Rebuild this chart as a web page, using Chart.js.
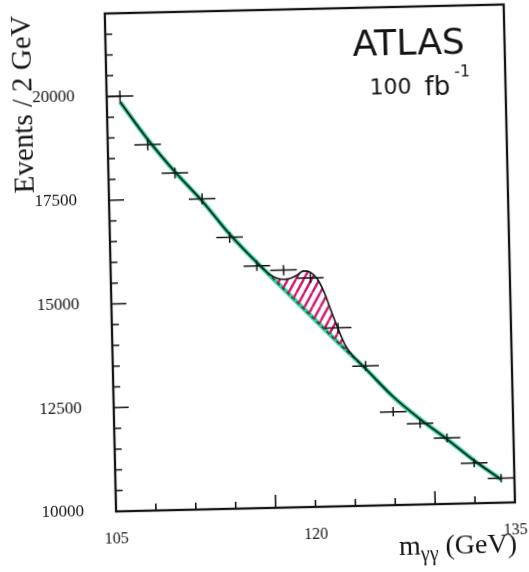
<!DOCTYPE html>
<html lang="en">
<head>
<meta charset="utf-8">
<title>ATLAS m_yy spectrum, 100 fb-1</title>
<script src="https://cdn.jsdelivr.net/npm/chart.js@4.4.1/dist/chart.umd.min.js"></script>
<style>
  html, body { margin: 0; padding: 0; background: #fff; overflow: hidden; }
  /* the scanned figure sits slightly tilted */
  #massChart { display: block; transform: rotate(-1.3deg); transform-origin: 50% 50%; }
</style>
</head>
<body>
<canvas id="massChart" width="529" height="572"></canvas>
<script>
// data points, 2 GeV bins
const binCentres = [106, 108, 110, 112, 114, 116, 118, 120, 122, 124, 126, 128, 130, 132, 134];
const eventCounts = [20000, 18820, 18120, 17480, 16540, 15840, 15720, 15520, 14300, 13370, 12250, 11950, 11590, 10970, 10590];
const countErrors = [141, 137, 135, 132, 129, 126, 125, 125, 120, 116, 111, 109, 108, 105, 103];
const binHalfWidth = 1;

// background only (green)
const bgMass = [106, 108, 110, 112, 114, 116, 118, 120, 122, 124, 126, 128, 130, 132, 134];
const backgroundFit = [19860, 18950, 18150, 17430, 16620, 15920, 15260, 14600, 13940, 13300, 12620, 12060, 11560, 11030, 10560];

// signal + background (black)
const totalMass = [106, 108, 110, 112, 114, 116, 116.5, 117, 118, 118.5, 119, 119.5, 120, 120.5, 121, 121.5, 122, 122.5, 123, 123.5, 124, 126, 128, 130, 132, 134];
const signalPlusBackground = [19860, 18950, 18150, 17430, 16620, 15920, 15760, 15610, 15500, 15520, 15590, 15690, 15660, 15500, 15180, 14720, 14280, 13890, 13640, 13470, 13300, 12620, 12060, 11560, 11030, 10560];

// stretch of the background drawn dashed under the hatch
const dashedFrom = 116;
const dashedTo = 124;

// axes
const xTickMarks = [105, 108, 111, 114, 117, 120, 123, 126, 129, 132, 135];
const xTallMarks = [117, 129];
const xLabels = [105, 120, 135];
const yTickMarks = [10000, 10500, 11000, 11500, 12000, 12500, 13000, 13500, 14000, 14500, 15000, 15500,
                    16000, 16500, 17000, 17500, 18000, 18500, 19000, 19500, 20000, 20500, 21000, 21500, 22000];
const yLabels = [10000, 12500, 15000, 17500, 20000];

const SERIF = '"Liberation Serif", "Times New Roman", serif';
const HAND = '"DejaVu Sans", sans-serif';
const INK = '#141414';

const MassPlot = {
    init() {
        this.canvas = document.getElementById('massChart');
        this.hatch = this.buildHatch();
        this.chart = null;

        Chart.defaults.color = INK;
        this.drawChart();
    },

    buildHatch() {
        const w = 8, h = 14;
        const tile = document.createElement('canvas');
        tile.width = w;
        tile.height = h;
        const c = tile.getContext('2d');
        c.strokeStyle = '#d4156f';
        c.lineWidth = 2.4;
        c.beginPath();
        [-w, 0, w].forEach(off => {
            c.moveTo(off, h);
            c.lineTo(off + w, 0);
        });
        c.stroke();
        return c.createPattern(tile, 'repeat');
    },

    toPoints(xs, ys) {
        return xs.map((x, i) => ({ x: x, y: ys[i] }));
    },

    errorBars() {
        return {
            id: 'errorBars',
            afterDatasetsDraw(chart) {
                const { ctx, scales: { x, y } } = chart;
                ctx.save();
                ctx.strokeStyle = INK;
                ctx.lineWidth = 1.5;
                ctx.beginPath();
                binCentres.forEach((m, i) => {
                    const py = y.getPixelForValue(eventCounts[i]);
                    const px = x.getPixelForValue(m);
                    ctx.moveTo(x.getPixelForValue(m - binHalfWidth), py);
                    ctx.lineTo(x.getPixelForValue(m + binHalfWidth), py);
                    ctx.moveTo(px, y.getPixelForValue(eventCounts[i] - countErrors[i]));
                    ctx.lineTo(px, y.getPixelForValue(eventCounts[i] + countErrors[i]));
                });
                ctx.stroke();
                ctx.restore();
            }
        };
    },

    frameAndTicks() {
        return {
            id: 'frameAndTicks',
            afterDatasetsDraw(chart) {
                const { ctx, chartArea: a, scales: { x, y } } = chart;
                ctx.save();
                ctx.strokeStyle = INK;
                ctx.lineWidth = 1.6;
                ctx.beginPath();
                xTickMarks.forEach(v => {
                    const px = x.getPixelForValue(v);
                    const len = xTallMarks.includes(v) ? 13 : 7;
                    ctx.moveTo(px, a.bottom);
                    ctx.lineTo(px, a.bottom - len);
                });
                yTickMarks.forEach(v => {
                    const py = y.getPixelForValue(v);
                    const len = yLabels.includes(v) ? 15 : 7;
                    ctx.moveTo(a.left, py);
                    ctx.lineTo(a.left + len, py);
                });
                ctx.stroke();
                ctx.lineWidth = 2.3;
                ctx.strokeRect(a.left, a.top, a.right - a.left, a.bottom - a.top);
                ctx.restore();
            }
        };
    },

    annotations() {
        return {
            id: 'annotations',
            afterDraw(chart) {
                const { ctx, chartArea: a } = chart;
                ctx.save();
                ctx.fillStyle = INK;
                ctx.textAlign = 'left';
                ctx.textBaseline = 'alphabetic';

                // hand written label
                ctx.font = '36px ' + HAND;
                ctx.fillText('ATLAS', 358, 58);
                ctx.font = '22px ' + HAND;
                ctx.fillText('100', 374, 97);
                ctx.font = '26px ' + HAND;
                ctx.fillText('fb', 429, 99);
                ctx.font = '16px ' + HAND;
                ctx.fillText('-1', 459, 81);

                // x title with subscript
                const big = '28px ' + SERIF;
                const small = '20px ' + SERIF;
                ctx.font = big;
                const wM = ctx.measureText('m').width;
                const wRest = ctx.measureText(' (GeV)').width;
                ctx.font = small;
                const wSub = ctx.measureText('γγ').width;
                let xPos = a.right + 1 - (wM + wSub + wRest);
                ctx.font = big;
                ctx.fillText('m', xPos, 558);
                xPos += wM;
                ctx.font = small;
                ctx.fillText('γγ', xPos, 564);
                xPos += wSub;
                ctx.font = big;
                ctx.fillText(' (GeV)', xPos, 558);
                ctx.restore();
            }
        };
    },

    drawChart() {
        const dashedMass = bgMass.filter(m => m >= dashedFrom && m <= dashedTo);
        const dashedFit = backgroundFit.filter((v, i) => bgMass[i] >= dashedFrom && bgMass[i] <= dashedTo);

        this.chart = new Chart(this.canvas, {
            type: 'line',
            data: {
                datasets: [
                    {
                        label: 'Background',
                        data: this.toPoints(bgMass, backgroundFit),
                        borderColor: '#33d39a',
                        borderWidth: 4.5,
                        pointRadius: 0,
                        cubicInterpolationMode: 'monotone',
                        fill: false,
                        order: 3
                    },
                    {
                        label: 'Background (under signal)',
                        data: this.toPoints(dashedMass, dashedFit),
                        borderColor: INK,
                        borderWidth: 1.2,
                        borderDash: [4, 3],
                        pointRadius: 0,
                        cubicInterpolationMode: 'monotone',
                        fill: false,
                        order: 2
                    },
                    {
                        label: 'Signal + background',
                        data: this.toPoints(totalMass, signalPlusBackground),
                        borderColor: INK,
                        borderWidth: 1.6,
                        backgroundColor: this.hatch,
                        pointRadius: 0,
                        cubicInterpolationMode: 'monotone',
                        fill: { target: 0 },
                        order: 1
                    },
                    {
                        label: 'Data',
                        data: this.toPoints(binCentres, eventCounts),
                        showLine: false,
                        pointRadius: 0,
                        order: 0
                    }
                ]
            },
            options: {
                responsive: false,
                animation: false,
                devicePixelRatio: 1,
                layout: { padding: { top: 10, right: 19, bottom: 0, left: 0 } },
                plugins: {
                    legend: { display: false },
                    tooltip: { enabled: false }
                },
                scales: {
                    x: {
                        type: 'linear',
                        min: 105,
                        max: 135,
                        grid: { display: false },
                        border: { display: false },
                        afterBuildTicks: (scale) => {
                            scale.ticks = xLabels.map(v => ({ value: v }));
                        },
                        afterFit: (scale) => {
                            scale.height = 64;
                            scale.paddingLeft = 0;
                            scale.paddingRight = 0;
                        },
                        ticks: {
                            autoSkip: false,
                            maxRotation: 0,
                            padding: 10,
                            font: { family: SERIF, size: 16 },
                            callback: (v) => String(v)
                        }
                    },
                    y: {
                        min: 10000,
                        max: 22000,
                        grid: { display: false },
                        border: { display: false },
                        afterBuildTicks: (scale) => {
                            scale.ticks = yLabels.map(v => ({ value: v }));
                        },
                        afterFit: (scale) => {
                            scale.width = 111;
                            scale.paddingTop = 0;
                            scale.paddingBottom = 0;
                        },
                        ticks: {
                            autoSkip: false,
                            padding: 24,
                            font: { family: SERIF, size: 17 },
                            callback: (v) => String(v)
                        },
                        title: {
                            display: true,
                            text: 'Events / 2 GeV',
                            align: 'end',
                            padding: { top: 11, bottom: 0 },
                            font: { family: SERIF, size: 29 }
                        }
                    }
                }
            },
            plugins: [this.errorBars(), this.frameAndTicks(), this.annotations()]
        });
    }
};

document.addEventListener('DOMContentLoaded', () => {
    MassPlot.init();
});
</script>
</body>
</html>
